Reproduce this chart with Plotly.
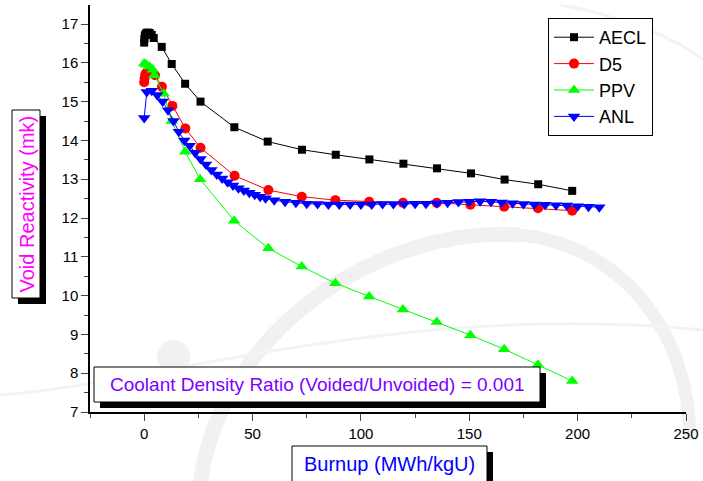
import plotly.graph_objects as go

# ---------------- data ----------------
aecl_x = [0, 0.1, 0.3, 0.8, 1.5, 2.5, 3.5, 4.4, 8.1, 12.7, 18.9, 26.0, 41.6, 57.0, 72.8, 88.4, 103.9, 119.6, 135.1, 150.8, 166.3, 181.8, 197.5]
aecl_y = [16.52, 16.62, 16.71, 16.76, 16.78, 16.77, 16.72, 16.64, 16.41, 15.97, 15.46, 15.0, 14.34, 13.97, 13.76, 13.63, 13.51, 13.4, 13.28, 13.15, 12.99, 12.87, 12.7]

d5_x = [0, 0.2, 0.5, 1.0, 2.0, 3.5, 5.0, 8.2, 13.0, 19.0, 26.0, 41.7, 57.3, 72.7, 88.2, 103.8, 119.4, 135.0, 150.5, 166.1, 181.7, 197.5]
d5_y = [15.5, 15.6, 15.7, 15.75, 15.76, 15.73, 15.68, 15.38, 14.89, 14.31, 13.81, 13.09, 12.72, 12.55, 12.46, 12.42, 12.39, 12.39, 12.34, 12.29, 12.25, 12.19]

ppv_x = [0, 1.0, 2.5, 4.0, 4.7, 9.0, 12.7, 18.9, 25.8, 41.5, 57.3, 72.7, 88.2, 103.8, 119.4, 135.0, 150.5, 166.1, 181.7, 197.5]
ppv_y = [15.98, 15.95, 15.9, 15.82, 15.68, 15.2, 14.5, 13.71, 13.0, 11.93, 11.22, 10.75, 10.32, 9.98, 9.64, 9.32, 8.98, 8.62, 8.22, 7.8]

anl_x = [0, 1.2, 3.5, 6, 8.5, 11, 13.5, 16, 18.5, 21, 23.5, 26, 28.5, 31, 33.5, 36, 38.5, 41, 43.5, 46, 48.5, 51, 53.5, 56,
         60, 65, 70, 75, 80, 85, 90, 95, 100, 105, 110, 115, 120, 125, 130, 135, 140, 145, 150, 155, 160, 165, 170, 175,
         180, 185, 190, 195, 200, 205, 210]
anl_y = [14.58, 15.25, 15.28, 15.17, 15.0, 14.78, 14.5, 14.22, 14.0, 13.86, 13.68, 13.52, 13.38, 13.24, 13.12, 13.02, 12.92, 12.84, 12.77, 12.71, 12.65, 12.6, 12.55, 12.51,
         12.46, 12.42, 12.39, 12.37, 12.36, 12.35, 12.35, 12.35, 12.35, 12.35, 12.36, 12.36, 12.36, 12.37, 12.37, 12.38, 12.39, 12.41, 12.42, 12.43, 12.42, 12.4, 12.38, 12.36,
         12.35, 12.34, 12.33, 12.32, 12.3, 12.29, 12.28]

x_tick_vals = [0, 50, 100, 150, 200, 250]
y_tick_vals = [7, 8, 9, 10, 11, 12, 13, 14, 15, 16, 17]

# ---------------- layout geometry (pixels) ----------------
W, H = 703, 481
L, R, T, B = 90, 17, 5, 69
PW, PH = W - L - R, H - T - B


def px(x):
    return (x - L) / PW


def py(y):
    return (H - B - y) / PH


FONT = "Arial, Liberation Sans, sans-serif"

fig = go.Figure()

series = [
    ("AECL", aecl_x, aecl_y, "#000000", "square", 8),
    ("D5", d5_x, d5_y, "#FF0000", "circle", 10),
    ("PPV", ppv_x, ppv_y, "#00FF00", "triangle-up", 11),
    ("ANL", anl_x, anl_y, "#0000FF", "triangle-down", 11),
]
for name, xs, ys, col, sym, sz in series:
    fig.add_trace(go.Scatter(
        x=xs, y=ys, name=name, mode="lines+markers",
        line=dict(color=col, width=1),
        marker=dict(color=col, symbol=sym, size=sz, line=dict(width=0)),
    ))

shapes = []
WM = "#f1f1f1"
# faint watermark swooshes
shapes.append(dict(type="path", xref="paper", yref="paper", layer="below",
                   path="M {} {} C {} {} {} {} {} {}".format(px(200), py(485), px(220), py(330), px(380), py(225), px(520), py(235)),
                   line=dict(color=WM, width=15)))
shapes.append(dict(type="path", xref="paper", yref="paper", layer="below",
                   path="M {} {} C {} {} {} {} {} {}".format(px(520), py(235), px(620), py(245), px(690), py(330), px(690), py(440)),
                   line=dict(color=WM, width=13)))
shapes.append(dict(type="path", xref="paper", yref="paper", layer="below",
                   path="M {} {} C {} {} {} {} {} {}".format(px(0), py(395), px(150), py(385), px(400), py(300), px(703), py(330)),
                   line=dict(color="#f3f3f3", width=3)))
shapes.append(dict(type="path", xref="paper", yref="paper", layer="below",
                   path="M {} {} C {} {} {} {} {} {}".format(px(560), py(5), px(620), py(15), px(680), py(40), px(703), py(60)),
                   line=dict(color="#f3f3f3", width=3)))
shapes.append(dict(type="circle", xref="paper", yref="paper", layer="below",
                   x0=px(157), x1=px(190), y0=py(340), y1=py(373),
                   fillcolor="#f1f1f1", line=dict(width=0)))


def boxed(x0, y0, x1, y1, off=6):
    shapes.append(dict(type="rect", xref="paper", yref="paper",
                       x0=px(x0 + off), x1=px(x1 + off), y0=py(y0 + off), y1=py(y1 + off),
                       fillcolor="#000000", line=dict(width=0)))
    shapes.append(dict(type="rect", xref="paper", yref="paper",
                       x0=px(x0), x1=px(x1), y0=py(y0), y1=py(y1),
                       fillcolor="#FFFFFF", line=dict(color="#000000", width=1)))


boxed(12, 110, 40, 298)
boxed(94, 367, 540, 402)
boxed(292, 446, 487, 484)

annotations = [
    dict(text="Void Reactivity (mk)", x=px(26.5), y=py(204), xref="paper", yref="paper",
         xanchor="center", yanchor="middle",
         showarrow=False, textangle=-90, font=dict(family=FONT, size=20, color="#FF00FF")),
    dict(text="Coolant Density Ratio (Voided/Unvoided) = 0.001", x=px(317), y=py(384.5), xref="paper", yref="paper",
         xanchor="center", yanchor="middle",
         showarrow=False, font=dict(family=FONT, size=19, color="#8000FF")),
    dict(text="Burnup (MWh/kgU)", x=px(389.5), y=py(463.5), xref="paper", yref="paper",
         xanchor="center", yanchor="middle",
         showarrow=False, font=dict(family=FONT, size=20, color="#0000FF")),
]

fig.update_layout(
    width=W, height=H,
    margin=dict(l=L, r=R, t=T, b=B),
    paper_bgcolor="#FFFFFF", plot_bgcolor="rgba(0,0,0,0)",
    font=dict(family=FONT, size=15, color="#000000"),
    shapes=shapes, annotations=annotations,
    legend=dict(x=px(548), y=py(18), xanchor="left", yanchor="top",
                bordercolor="#000000", borderwidth=1, bgcolor="#FFFFFF",
                font=dict(family=FONT, size=18, color="#000000"),
                itemwidth=40, tracegroupgap=0),
    showlegend=True,
)

fig.update_xaxes(range=[-25, 250], tickvals=x_tick_vals, ticks="outside", ticklen=7, tickwidth=1.3,
                 showline=True, linecolor="#000000", linewidth=1.5, showgrid=False, zeroline=False,
                 minor=dict(dtick=25, tick0=0, ticks="outside", ticklen=4, tickwidth=1.3, showgrid=False),
                 tickfont=dict(family=FONT, size=15))
fig.update_yaxes(range=[7, 17.49], tickvals=y_tick_vals, ticks="outside", ticklen=7, tickwidth=1.3,
                 showline=True, linecolor="#000000", linewidth=1.5, showgrid=False, zeroline=False,
                 minor=dict(dtick=0.5, tick0=7, ticks="outside", ticklen=4, tickwidth=1.3, showgrid=False),
                 tickfont=dict(family=FONT, size=15))

fig.write_html("out.html")
